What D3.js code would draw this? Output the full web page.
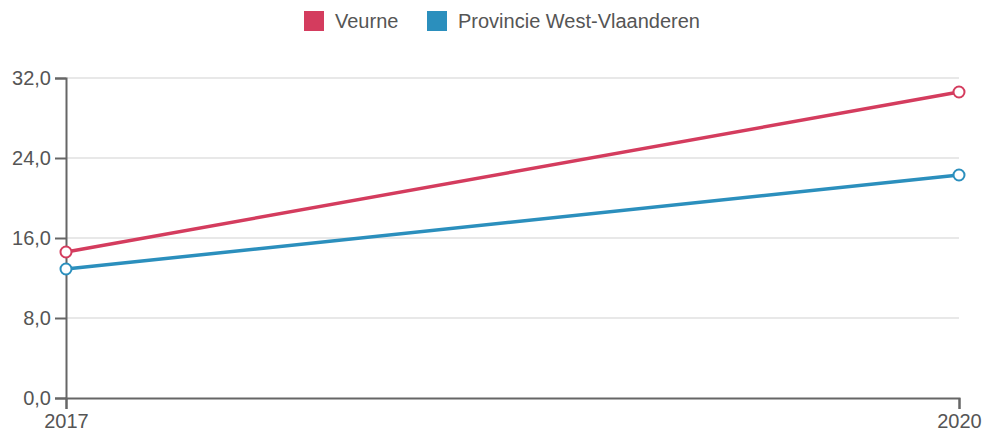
<!DOCTYPE html>
<html>
<head>
<meta charset="utf-8">
<script src="https://cdn.jsdelivr.net/npm/d3@7"></script>
<style>
  html, body { margin: 0; padding: 0; background: #fff; }
  svg { display: block; font-family: "Liberation Sans", Arial, sans-serif; }
</style>
</head>
<body>
<svg id="chart" width="987" height="435"></svg>
<script>
// Years on the x axis
const years = ["2017", "2020"];
// Series names and values
const seriesNames = ["Veurne", "Provincie West-Vlaanderen"];
const veurneValues = [14.6, 30.6];
const provincieValues = [12.9, 22.3];
const seriesColors = ["#d43c5e", "#2b8fbd"];
// Y tick values
const yTicks = [0, 8, 16, 24, 32];

const series = [
  { name: seriesNames[0], values: veurneValues, color: seriesColors[0] },
  { name: seriesNames[1], values: provincieValues, color: seriesColors[1] }
];

const svg = d3.select("#chart");
const margin = { top: 78, right: 28, bottom: 37, left: 66 };
const W = 987, H = 435;
const innerW = W - margin.left - margin.right;
const innerH = H - margin.top - margin.bottom;

const x = d3.scalePoint().domain(years).range([0, innerW]);
const y = d3.scaleLinear().domain([0, 32]).range([innerH, 0]);

const g = svg.append("g").attr("transform", `translate(${margin.left},${margin.top})`);

// Horizontal grid lines
g.append("g")
  .selectAll("line")
  .data(yTicks.filter(d => d > 0))
  .join("line")
  .attr("x1", 0).attr("x2", innerW)
  .attr("y1", d => y(d)).attr("y2", d => y(d))
  .attr("stroke", "#e8e8e8")
  .attr("stroke-width", 2);

// Y axis
const fmt = d => d.toFixed(1).replace(".", ",");
const yAxis = g.append("g")
  .call(d3.axisLeft(y).tickValues(yTicks).tickFormat(fmt).tickSize(11).tickPadding(4));
yAxis.select(".domain").attr("stroke", "#666").attr("stroke-width", 2);
yAxis.selectAll(".tick line").attr("stroke", "#666").attr("stroke-width", 2);
yAxis.selectAll(".tick text").attr("fill", "#555").style("font-size", "20px");

// X axis
const xAxis = g.append("g")
  .attr("transform", `translate(0,${innerH})`)
  .call(d3.axisBottom(x).tickSize(11).tickPadding(5));
xAxis.select(".domain").attr("stroke", "#666").attr("stroke-width", 2);
xAxis.selectAll(".tick line").attr("stroke", "#666").attr("stroke-width", 2);
xAxis.selectAll(".tick text").attr("fill", "#555").style("font-size", "20px");

// Lines
const line = d3.line().x((d, i) => x(years[i])).y(d => y(d));
g.selectAll(".series-line")
  .data(series)
  .join("path")
  .attr("class", "series-line")
  .attr("fill", "none")
  .attr("stroke", d => d.color)
  .attr("stroke-width", 3.5)
  .attr("d", d => line(d.values));

// Points
series.forEach(s => {
  g.selectAll(null)
    .data(s.values)
    .join("circle")
    .attr("cx", (d, i) => x(years[i]))
    .attr("cy", d => y(d))
    .attr("r", 5.5)
    .attr("fill", "#fff")
    .attr("stroke", s.color)
    .attr("stroke-width", 2);
});

// Legend
const legend = svg.append("g").attr("transform", "translate(304,11)");
const legendX = [0, 123];
series.forEach((s, i) => {
  const item = legend.append("g").attr("transform", `translate(${legendX[i]},0)`);
  item.append("rect").attr("width", 20).attr("height", 20).attr("fill", s.color);
  item.append("text")
    .attr("x", 31).attr("y", 10).attr("dy", "0.35em")
    .attr("fill", "#555")
    .style("font-size", "20px")
    .text(s.name);
});
</script>
</body>
</html>
